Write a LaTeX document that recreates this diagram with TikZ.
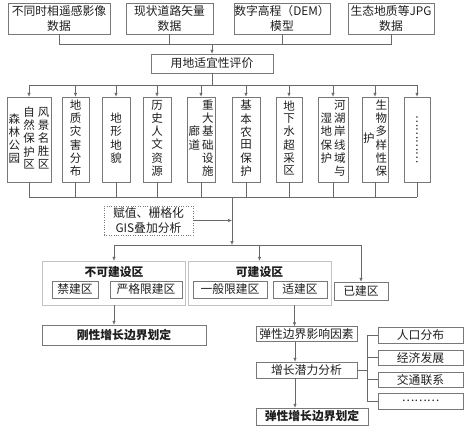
\documentclass[tikz,border=0pt]{standalone}
\usepackage{fontspec}
\setmainfont{Noto Sans CJK SC}
\definecolor{boxgray}{RGB}{120,120,120}
\definecolor{groupgray}{RGB}{195,195,195}
\definecolor{linegray}{RGB}{105,105,105}
\definecolor{textblack}{RGB}{30,30,30}
\usetikzlibrary{
  arrows.meta,
  positioning,
}
\tikzset{
  >={Latex[length=4pt,width=3.5pt]},
  frame/.style={draw=boxgray,rectangle,inner sep=0pt,text=textblack},
  box/.style={frame,align=center,font=\fontsize{11.8}{14.5}\selectfont},
  tall/.style={frame,minimum height=85pt,font=\fontsize{11.5}{12}\selectfont},
  group/.style={draw=groupgray,rectangle,inner sep=0pt,minimum width=143pt,minimum height=44pt},
  title/.style={text=textblack,font=\fontsize{11.8}{14}\selectfont\bfseries},
  link/.style={draw=linegray,line width=0.6pt},
}
\newcommand{\vcol}[1]{\begin{tabular}[c]{@{}c@{}}#1\end{tabular}}

\begin{document}
\begin{tikzpicture}[x=1pt,y=-1pt]
        \useasboundingbox (0,0) rectangle (465,432);

        % data sources
        \node[box,minimum width=102pt,minimum height=31pt]    (src1) at (59,18.5)    {不同时相遥感影像\\数据};
        \node[box,minimum width=87pt,minimum height=31pt]     (src2) at (169.5,18.5) {现状道路矢量\\数据};
        \node[box,minimum width=96pt,minimum height=31pt]     (src3) at (282,18.5)   {数字高程（DEM）\\模型};
        \node[box,minimum width=86pt,minimum height=31pt]     (src4) at (391,18.5)   {生态地质等JPG\\数据};
        \node[box,minimum width=122pt,minimum height=19pt]    (eval) at (212,63.5)   {用地适宜性评价};

        % factors
        \node[tall,minimum width=44pt]    (f1)  at (29,139.5)  {\vcol{森\\林\\公\\园}\hspace{3pt}\vcol{自\\然\\保\\护\\区}\hspace{3pt}\vcol{风\\景\\名\\胜\\区}};
        \node[tall,minimum width=27pt]    (f2)  at (75.5,139.5) {\vcol{地\\质\\灾\\害\\分\\布}};
        \node[tall,minimum width=28pt]    (f3)  at (116,139.5) {\vcol{地\\形\\地\\貌}};
        \node[tall,minimum width=28pt]    (f4)  at (157,139.5) {\vcol{历\\史\\人\\文\\资\\源}};
        \node[tall,minimum width=28pt]    (f5)  at (201,139.5) {\vcol{廊\\道}\hspace{2pt}\vcol{重\\大\\基\\础\\设\\施}};
        \node[tall,minimum width=28pt]    (f6)  at (246,139.5) {\vcol{基\\本\\农\\田\\保\\护}};
        \node[tall,minimum width=26pt]    (f7)  at (289,139.5) {\vcol{地\\下\\水\\超\\采\\区}};
        \node[tall,minimum width=30pt]    (f8)  at (333,139.5) {\vcol{湿\\地\\保\\护}\hspace{2pt}\vcol{河\\湖\\岸\\线\\域\\与}};
        \node[tall,minimum width=26pt]    (f9)  at (375,139.5) {\vcol{护}\hspace{1pt}\vcol{生\\物\\多\\样\\性\\保}};
        \node[tall,minimum width=26pt]    (f10) at (417,139.5) {\rotatebox{-90}{…………}};

        \node[box,dotted,minimum width=89pt,minimum height=29pt]    (gis) at (148.5,220.5) {赋值、栅格化\\GIS叠加分析};

        % zones
        \node[group]    (nob) at (114,283) {};
        \node[title]    (nobt) at (114,272) {不可建设区};
        \node[box,minimum width=46pt,minimum height=17pt]    (forbid) at (75,289.5)  {禁建区};
        \node[box,minimum width=72pt,minimum height=17pt]    (strict) at (146,289.5) {严格限建区};
        \node[group]    (cb) at (259.5,283) {};
        \node[title]    (cbt) at (259.5,272) {可建设区};
        \node[box,minimum width=74pt,minimum height=17pt]    (limit) at (230,289.5) {一般限建区};
        \node[box,minimum width=54pt,minimum height=17pt]    (fit) at (300,289.5)   {适建区};
        \node[box,minimum width=54pt,minimum height=18pt]    (built) at (361,291)   {已建区};

        % boundaries
        \node[box,minimum width=164pt,minimum height=20pt,font=\fontsize{11.8}{14}\selectfont\bfseries]    (rigid) at (124,335) {刚性增长边界划定};
        \node[box,minimum width=101pt,minimum height=15pt]    (infl) at (306.5,334)  {弹性边界影响因素};
        \node[box,minimum width=101pt,minimum height=16pt]    (pot) at (306.5,370)   {增长潜力分析};
        \node[box,minimum width=112pt,minimum height=17pt,font=\fontsize{11.8}{14}\selectfont\bfseries]    (elastic) at (312,416.5) {弹性增长边界划定};
        \node[box,minimum width=85pt,minimum height=16pt]    (r1) at (420.5,335)   {人口分布};
        \node[box,minimum width=85pt,minimum height=15pt]    (r2) at (420.5,357.5) {经济发展};
        \node[box,minimum width=85pt,minimum height=15pt]    (r3) at (420.5,379.5) {交通联系};
        \node[box,minimum width=85pt,minimum height=16pt]    (r4) at (420.5,401)   {………};

        \coordinate (tbus)  at (0,44);
        \coordinate (mbus)  at (0,85);
        \coordinate (lbus)  at (0,197);
        \coordinate (drop)  at (232,197);
        \coordinate (split) at (232,245);
        \coordinate (brk)   at (367,0);

        \draw[link] (src1.south) |- (src4.south |- tbus) -- (src4.south);
        \draw[link] (src2.south) -- (src2.south |- tbus);
        \draw[link] (src3.south) -- (src3.south |- tbus);
        \draw[link,->] (eval.north |- tbus) -- (eval.north);
        \draw[link] (eval.south) -- (eval.south |- mbus);
        \draw[link] (f1.north |- mbus) -- (f10.north |- mbus);
        \draw[link] (f1.south |- lbus) -- (f10.south |- lbus);
        \foreach \i in {1,...,10} {
            \draw[link,->] (f\i.north |- mbus) -- (f\i.north);
            \draw[link] (f\i.south) -- (f\i.south |- lbus);
        }
        \draw[link,->] (drop) -- (split);
        \draw[link,->] (gis.east) -- (gis.east -| drop);
        \draw[link] (nob.north |- split) -- (built.north |- split);
        \draw[link,->] (nob.north |- split) -- (nob.north);
        \draw[link,->] (cb.north |- split) -- (cb.north);
        \draw[link,->] (built.north |- split) -- (built.north);

        \draw[link,->] (nob.south) -- (nob.south |- rigid.north);
        \draw[link,->] ([xshift=35pt]cb.south) -- ([xshift=35pt]cb.south |- infl.north);
        \draw[link,->] ([xshift=-11.5pt]infl.south) -- ([xshift=-11.5pt]pot.north);
        \draw[link,->] ([xshift=-11.5pt]pot.south) -- ([xshift=-11.5pt]pot.south |- elastic.north);

        \draw[link] (pot.east) -- (pot.east -| brk);
        \draw[link] (r1.west -| brk) -- (r4.west -| brk);
        \foreach \i in {1,...,4}
            \draw[link] (r\i.west -| brk) -- (r\i.west);

    \end{tikzpicture}
\end{document}
